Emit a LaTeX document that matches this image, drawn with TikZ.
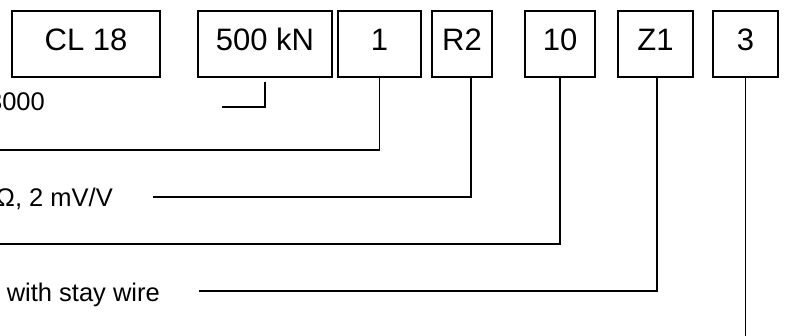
\documentclass[tikz,border=0pt]{standalone}
\usepackage{fontspec}
\setmainfont{Liberation Sans}
\begin{document}
\begin{tikzpicture}[x=1pt,y=-1pt,
  codebox/.style={draw,line width=1.6pt,minimum height=66pt,inner sep=0pt,
    font=\fontsize{31}{33}\selectfont,text height=22pt,text depth=9pt},
  conn/.style={line width=1.4pt},
  lbl/.style={anchor=base east,inner sep=0pt,font=\fontsize{25.5}{28}\selectfont}]
\useasboundingbox (0,0) rectangle (785,336);
\clip (0,0) rectangle (785,336);
\node[codebox,minimum width=148pt] (cl) at (86,44) {CL 18};
\node[codebox,minimum width=134pt] (kn) at (265,44) {500 kN};
\node[codebox,minimum width=83pt] (one) at (379.5,44) {1};
\node[codebox,minimum width=60pt] (rtwo) at (462,44) {R2};
\node[codebox,minimum width=70pt] (ten) at (560,44) {10};
\node[codebox,minimum width=75pt] (zone) at (655.5,44) {Z1};
\node[codebox,minimum width=65pt] (three) at (745.5,44) {3};
\node[lbl] (la) at (45,111) {3000};
\node[lbl] (lb) at (113,207) {Ω, 2 mV/V};
\node[lbl] (lc) at (160,302) {with stay wire};
\coordinate (ea) at (222,107);
\coordinate (eb) at (-5,150);
\coordinate (ec) at (153,197);
\coordinate (ed) at (-5,244);
\coordinate (ee) at (199,291);
\coordinate (ef) at (745.5,340);
\draw[conn] ([yshift=-4pt]kn.south) |- (ea);
\draw[conn] (one.south) |- (eb);
\draw[conn] ([xshift=9pt]rtwo.south) |- (ec);
\draw[conn] (ten.south) |- (ed);
\draw[conn] ([xshift=1.5pt]zone.south) |- (ee);
\draw[conn] (three.south) -- (ef);
\end{tikzpicture}
\end{document}
